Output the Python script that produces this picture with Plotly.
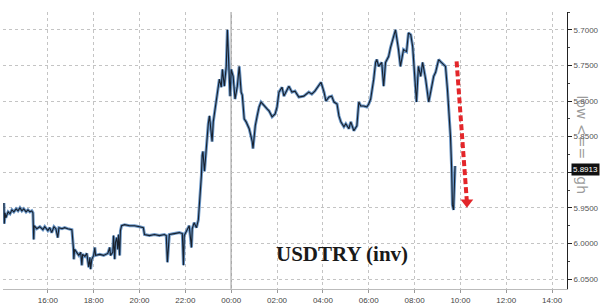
import plotly.graph_objects as go

DAY1 = "2018-08-09"
DAY2 = "2018-08-10"

day1_times = ["14:05","14:06","14:08","14:10","14:16","14:21","14:26","14:31","14:37","14:42","14:47","14:52","14:57",
    "15:03","15:08","15:13","15:18","15:21","15:22","15:23","15:24","15:31","15:39","15:47","15:52",
    "16:00","16:05","16:10","16:16","16:21","16:26","16:29","16:37","16:44","16:52",
    "17:03","17:07","17:08","17:10","17:16","17:21","17:26","17:29","17:31","17:37","17:42","17:47","17:50","17:52","17:55",
    "18:00","18:03","18:05","18:16","18:26","18:37","18:42","18:44","18:50","18:52","18:55","18:57",
    "19:00","19:03","19:05","19:08","19:10","19:13","19:21","19:34","19:47",
    "20:00","20:10","20:13","20:26","20:39","20:52",
    "21:05","21:10","21:13","21:16","21:18","21:31","21:44","21:52","21:55","21:57",
    "22:03","22:08","22:10","22:16","22:18","22:23","22:29","22:34","22:37","22:42","22:44","22:46","22:50","22:55",
    "23:00","23:03","23:08","23:10","23:13","23:18","23:23","23:29","23:34","23:37","23:42","23:47","23:50","23:52","23:55","23:57"]
day1_values = [5.9431,5.9722,5.9569,5.9639,5.9556,5.9583,5.9528,5.9556,5.9514,5.9542,5.9500,5.9542,5.9514,
    5.9556,5.9528,5.9556,5.9542,5.9569,5.9750,5.9944,5.9750,5.9792,5.9764,5.9806,5.9764,
    5.9819,5.9778,5.9847,5.9764,5.9792,5.9917,5.9778,5.9792,5.9778,5.9792,
    5.9806,6.0069,6.0222,6.0083,6.0139,6.0167,6.0125,6.0306,6.0153,6.0181,6.0139,6.0333,6.0194,6.0361,6.0222,
    6.0167,6.0056,6.0167,6.0153,6.0167,6.0139,6.0056,6.0167,6.0125,5.9889,6.0222,5.9986,
    5.9917,6.0083,5.9875,6.0167,5.9819,5.9750,5.9736,5.9750,5.9750,
    5.9764,5.9778,5.9875,5.9889,5.9875,5.9889,
    5.9875,5.9889,6.0264,5.9917,5.9875,5.9861,5.9847,5.9861,6.0306,5.9889,
    5.9819,5.9778,5.9750,6.0056,5.9792,5.9708,5.9778,5.9667,5.9458,5.9042,5.8764,5.8708,5.8986,5.8625,
    5.8319,5.8208,5.8486,5.8569,5.8292,5.8111,5.7931,5.7694,5.7806,5.7556,5.7792,5.7514,5.7000,5.7319,5.7625,5.7931]

day2_times = ["00:00","00:05","00:10","00:16","00:21","00:26","00:29","00:34","00:39","00:47","00:52","00:55","00:57",
    "01:03","01:08","01:13","01:18","01:26","01:34","01:39","01:47","01:55",
    "02:00","02:05","02:13","02:18","02:26","02:31","02:39","02:47","02:57",
    "03:10","03:23","03:31","03:39","03:50","03:55",
    "04:03","04:08","04:16","04:23","04:29","04:37","04:42","04:47","04:55",
    "05:00","05:08","05:13","05:21","05:29","05:34","05:39","05:47","05:55",
    "06:00","06:05","06:13","06:18","06:21","06:26","06:34","06:39","06:44","06:52","06:57",
    "07:05","07:10","07:18","07:23","07:31","07:39","07:44","07:50","07:55",
    "08:00","08:05","08:10","08:16","08:21","08:29","08:37","08:42","08:50","08:55",
    "09:03","09:10","09:16","09:21","09:26","09:31","09:34","09:37","09:39","09:42","09:44","09:46"]
day2_values = [5.7556,5.7653,5.7972,5.7792,5.7514,5.7875,5.7917,5.8250,5.8292,5.8389,5.8500,5.8569,5.8667,
    5.8347,5.8208,5.8083,5.8014,5.8069,5.8111,5.8139,5.8222,5.8181,
    5.8083,5.7875,5.7806,5.7931,5.7833,5.7792,5.7875,5.7861,5.7944,
    5.7931,5.7875,5.7903,5.7861,5.7764,5.7736,
    5.7875,5.8000,5.7944,5.7931,5.8014,5.8042,5.8208,5.8292,5.8361,
    5.8319,5.8389,5.8292,5.8417,5.8347,5.8014,5.8069,5.8069,5.8083,
    5.8042,5.7972,5.7694,5.7458,5.7417,5.7514,5.7458,5.7792,5.7458,5.7375,5.7250,
    5.7097,5.7000,5.7278,5.7514,5.7278,5.7306,5.7042,5.7069,5.7236,
    5.7694,5.8014,5.7514,5.7653,5.7458,5.7694,5.8014,5.7875,5.7653,5.7597,
    5.7417,5.7458,5.7486,5.7514,5.7833,5.8208,5.8500,5.8944,5.9458,5.9528,5.9153,5.8913]

last_value = 5.8913
y_ticks = [5.70, 5.75, 5.80, 5.85, 5.90, 5.95, 6.00, 6.05]
x_range = [DAY1 + " 14:02:36", DAY2 + " 14:39"]
y_range = [6.0639, 5.675]
arrow_x = [DAY2 + " 09:50", DAY2 + " 10:17"]
arrow_y = [5.7444, 5.9420]

times = [DAY1 + " " + t for t in day1_times] + [DAY2 + " " + t for t in day2_times]
values = day1_values + day2_values

fig = go.Figure()
fig.add_trace(go.Scatter(x=times, y=values, mode="lines",
                         line=dict(color="rgba(70,125,185,0.8)", width=3), hoverinfo="skip"))
fig.add_trace(go.Scatter(x=times, y=values, mode="lines",
                         line=dict(color="#18202c", width=1.1)))
# midnight separator
fig.add_shape(type="line", xref="x", yref="paper", x0=DAY2 + " 00:00", x1=DAY2 + " 00:00",
              y0=0, y1=1, line=dict(color="#a8a8a8", width=1.5), layer="below")
# red dashed arrow
fig.add_trace(go.Scatter(x=arrow_x, y=arrow_y, mode="lines",
                         line=dict(color="#e3262a", width=4, dash="6px,3px")))
fig.add_trace(go.Scatter(x=[arrow_x[1]], y=[arrow_y[1]], mode="markers",
                         marker=dict(symbol="triangle-down", size=11, color="#e3262a",
                                     line=dict(width=0))))

fig.add_annotation(text="<b>USDTRY (inv)</b>", xref="paper", yref="paper", x=0.601, y=0.075,
                   showarrow=False, font=dict(family="Liberation Serif", size=21, color="#1a1a1a"))
fig.add_annotation(text="low <== high", xref="paper", yref="paper", x=1.045, y=0.52,
                   textangle=90, showarrow=False,
                   font=dict(family="DejaVu Sans", size=14, color="rgba(110,110,110,0.7)"))
fig.add_annotation(text="%.4f" % last_value, xref="paper", yref="y", x=1.0, y=last_value, yshift=-3,
                   xanchor="left", xshift=4, showarrow=False, bgcolor="#111111",
                   font=dict(family="Liberation Sans", size=8, color="white"), borderpad=1)

fig.update_layout(
    width=602, height=308, margin=dict(l=3, r=33, t=12, b=16),
    paper_bgcolor="white", plot_bgcolor="white", showlegend=False,
    xaxis=dict(type="date", range=x_range, tickformat="%H:%M", dtick=7200000, tick0=DAY1 + " 00:00",
               showgrid=True, gridcolor="#c4c4c4", griddash="dot", gridwidth=1,
               showline=True, linecolor="#bbbbbb", ticks="outside", ticklen=3, tickcolor="#999",
               tickfont=dict(family="Liberation Sans", size=8, color="#444"), zeroline=False),
    yaxis=dict(side="right", range=y_range, tickvals=y_ticks, ticktext=["%.4f" % v for v in y_ticks],
               showgrid=True, gridcolor="#c4c4c4", griddash="dot", gridwidth=1,
               showline=True, linecolor="#222", linewidth=1, ticks="outside", ticklen=4, tickcolor="#222",
               minor=dict(dtick=0.025, tick0=5.7, ticks="outside", ticklen=2, tickcolor="#444", showgrid=False),
               tickfont=dict(family="Liberation Sans", size=8, color="#555"), zeroline=False),
)
fig.write_html("out.html")
